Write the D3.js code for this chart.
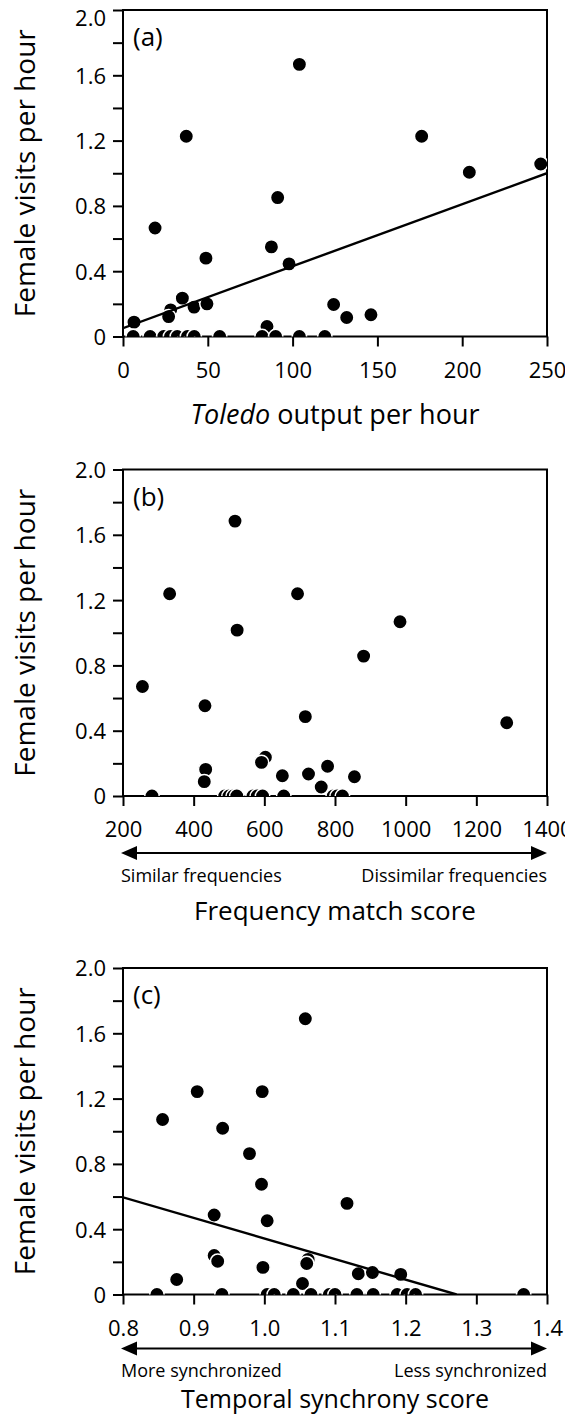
<!DOCTYPE html>
<html>
<head>
<meta charset="utf-8">
<script src="https://cdn.jsdelivr.net/npm/d3@7"></script>
<style>
  body { margin: 0; background: #fff; }
  svg { display: block; }
  text { font-family: "Open Sans", sans-serif; fill: #000; }
</style>
</head>
<body>
<svg id="chart"></svg>
<script>
  // (a) Toledo output per hour vs female visits
  const toledoOutput = [104.0, 37.3, 176.1, 204.2, 246.3, 91.2, 18.9, 87.5, 48.9, 97.9,
    35.0, 28.1, 26.9, 41.9, 49.5, 6.5, 124.2, 131.9, 146.2, 84.9,
    6, 16, 24, 28, 32, 38, 42, 57, 82, 90, 104, 119];
  const visitsA = [1.667, 1.227, 1.227, 1.006, 1.057, 0.851, 0.665, 0.549, 0.480, 0.445,
    0.235, 0.163, 0.122, 0.180, 0.200, 0.088, 0.196, 0.116, 0.133, 0.061,
    0, 0, 0, 0, 0, 0, 0, 0, 0, 0, 0, 0];
  const fitA = [[0, 0.051], [250, 1.0]];

  // (b) frequency match score
  const freqScore = [517, 332, 694, 523, 984, 881, 255, 432, 716, 1286,
    603, 592, 434, 430, 651, 725, 779, 855, 761,
    282, 488, 500, 512, 522, 568, 580, 595, 655, 795, 806, 821];
  const visitsB = [1.684, 1.239, 1.239, 1.016, 1.067, 0.857, 0.671, 0.553, 0.486, 0.449,
    0.237, 0.206, 0.163, 0.088, 0.124, 0.135, 0.182, 0.118, 0.055,
    0, 0, 0, 0, 0, 0, 0, 0, 0, 0, 0, 0];

  // (c) temporal synchrony score
  const syncScore = [1.058, 0.905, 0.997, 0.856, 0.941, 0.979, 0.996, 1.117, 0.929, 1.004,
    1.062, 0.929, 0.934, 0.998, 1.060, 0.876, 1.133, 1.153, 1.193, 1.054,
    0.848, 0.940, 1.004, 1.014, 1.041, 1.066, 1.092, 1.100, 1.131, 1.154, 1.188, 1.202, 1.214, 1.367];
  const visitsC = [1.689, 1.243, 1.243, 1.072, 1.018, 0.863, 0.675, 0.558, 0.487, 0.452,
    0.215, 0.239, 0.204, 0.166, 0.190, 0.092, 0.127, 0.135, 0.123, 0.067,
    0, 0, 0, 0, 0, 0, 0, 0, 0, 0, 0, 0, 0, 0];
  const fitC = [[0.8, 0.595], [1.272, 0]];

  const yTicks = [0, 0.2, 0.4, 0.6, 0.8, 1.0, 1.2, 1.4, 1.6, 1.8, 2.0];
  const xTicksA = [0, 50, 100, 150, 200, 250];
  const xTicksB = [200, 400, 600, 800, 1000, 1200, 1400];
  const xTicksC = [0.8, 0.9, 1.0, 1.1, 1.2, 1.3, 1.4];
  const yTitle = "Female visits per hour";

  const W = 565, H = 1426;
  const left = 123, plotW = 424, plotH = 326.5;

  const panels = [
    { tag: "(a)", top: 10, xs: toledoOutput, ys: visitsA, domain: [0, 250], ticks: xTicksA,
      fmt: d3.format("d"), fit: fitA, titleY: 87, titleSize: 27, arrow: null },
    { tag: "(b)", top: 469.5, xs: freqScore, ys: visitsB, domain: [200, 1400], ticks: xTicksB,
      fmt: d3.format("d"), fit: null, titleY: 124, titleSize: 26, title: "Frequency match score",
      arrowY: 57, noteY: 86, arrow: ["Similar frequencies", "Dissimilar frequencies"] },
    { tag: "(c)", top: 968, xs: syncScore, ys: visitsC, domain: [0.8, 1.4], ticks: xTicksC,
      fmt: d3.format(".1f"), fit: fitC, titleY: 113, titleSize: 25, title: "Temporal synchrony score",
      arrowY: 54, noteY: 82, arrow: ["More synchronized", "Less synchronized"] }
  ];

  const svg = d3.select("#chart").attr("width", W).attr("height", H);

  panels.forEach((p, i) => {
    const x = d3.scaleLinear().domain(p.domain).range([0, plotW]);
    const y = d3.scaleLinear().domain([0, 2]).range([plotH, 0]);

    const g = svg.append("g").attr("transform", `translate(${left},${p.top})`);

    g.append("clipPath").attr("id", "clip" + i)
      .append("rect").attr("width", plotW).attr("height", plotH);

    // axes
    const xAxis = g.append("g")
      .attr("transform", `translate(0,${plotH})`)
      .call(d3.axisBottom(x).tickValues(p.ticks).tickFormat(p.fmt).tickSize(10).tickSizeOuter(0));
    xAxis.selectAll("text").attr("y", 41).attr("dy", 0).style("font-size", "22px");

    const yAxis = g.append("g")
      .call(d3.axisLeft(y).tickValues(yTicks).tickSize(10).tickSizeOuter(0)
        .tickFormat(d => Math.round(d * 10) % 4 === 0 ? (d === 0 ? "0" : d.toFixed(1)) : ""));
    yAxis.selectAll("text").attr("x", -17).attr("dy", "0.36em").style("font-size", "22px");
    // top label of the first panel sits a little lower so it stays on the page
    if (i === 0) yAxis.selectAll("text").filter(d => d === 2).attr("dy", "0.7em");

    g.selectAll(".domain").remove();
    g.selectAll(".tick line").attr("stroke", "#000").attr("stroke-width", 2);

    g.append("rect")
      .attr("width", plotW).attr("height", plotH)
      .attr("fill", "none").attr("stroke", "#000").attr("stroke-width", 2);

    // points + fit line
    const inner = g.append("g").attr("clip-path", `url(#clip${i})`);
    inner.selectAll("circle")
      .data(p.xs.map((v, k) => [v, p.ys[k]]))
      .join("circle")
      .attr("cx", d => x(d[0]))
      .attr("cy", d => y(d[1]))
      .attr("r", 7.2)
      .attr("fill", "#000")
      .attr("stroke", "#fff")
      .attr("stroke-width", 1.5);

    if (p.fit) {
      inner.append("path")
        .attr("d", d3.line().x(d => x(d[0])).y(d => y(d[1]))(p.fit))
        .attr("fill", "none").attr("stroke", "#000").attr("stroke-width", 2.4);
    }

    g.append("text")
      .attr("x", 10).attr("y", 36)
      .style("font-size", "26px")
      .text(p.tag);

    // y title
    g.append("text")
      .attr("transform", `translate(${35 - left},${plotH / 2}) rotate(-90)`)
      .attr("text-anchor", "middle")
      .style("font-size", "28px")
      .text(yTitle);

    // x title
    const xt = g.append("text")
      .attr("x", plotW / 2).attr("y", plotH + p.titleY)
      .attr("text-anchor", "middle")
      .style("font-size", p.titleSize + "px");
    if (i === 0) {
      xt.append("tspan").style("font-style", "italic").text("Toledo");
      xt.append("tspan").text(" output per hour");
    } else {
      xt.text(p.title);
    }

    // double-headed arrow with end labels
    if (p.arrow) {
      const ay = plotH + p.arrowY;
      const x0 = x(p.domain[0]) - 2, x1 = x(p.domain[1]);
      g.append("line")
        .attr("x1", x0 + 10).attr("x2", x1 - 10)
        .attr("y1", ay).attr("y2", ay)
        .attr("stroke", "#000").attr("stroke-width", 2);
      g.append("path")
        .attr("d", `M${x0},${ay} l16,-7 l0,14 Z M${x1},${ay} l-16,-7 l0,14 Z`)
        .attr("fill", "#000");
      g.append("text").attr("x", x0).attr("y", plotH + p.noteY)
        .style("font-size", "18px").text(p.arrow[0]);
      g.append("text").attr("x", x1).attr("y", plotH + p.noteY)
        .attr("text-anchor", "end")
        .style("font-size", "18px").text(p.arrow[1]);
    }
  });
</script>
</body>
</html>
